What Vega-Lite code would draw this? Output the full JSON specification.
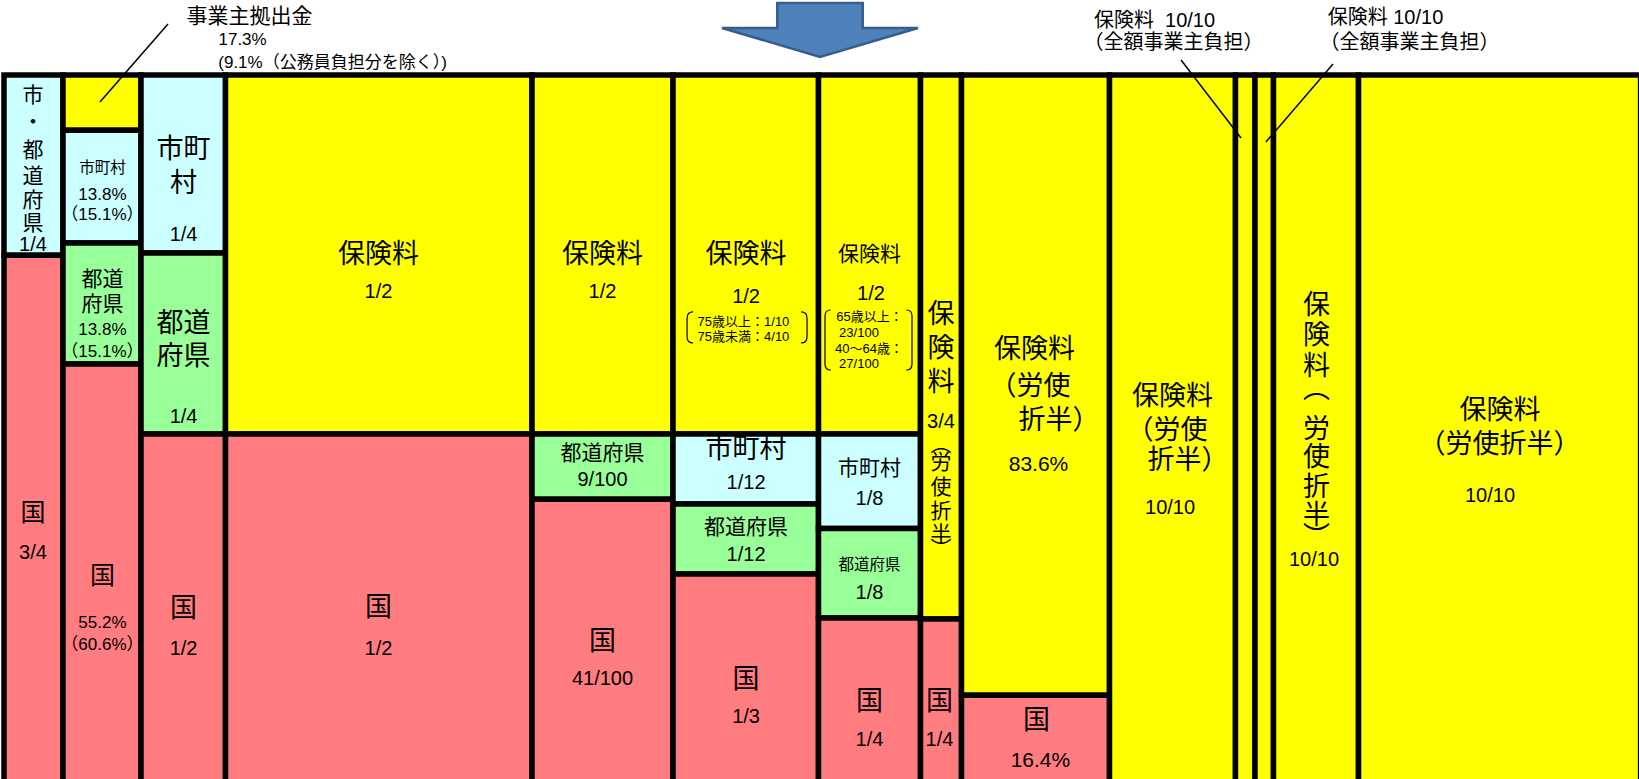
{
  "$schema": "https://vega.github.io/schema/vega-lite/v6.json",
  "width": 1639,
  "height": 704,
  "autosize": {"type": "none"},
  "padding": {"left": 0, "top": 75, "right": 0, "bottom": 0},
  "background": "white",
  "config": {"view": {"stroke": null}},
  "datasets": {
    "cells": [
      {"col": 1, "x0": 0.244, "x1": 3.844, "y0": 0, "y1": 0.251, "payer": "市・都道府県"},
      {"col": 1, "x0": 0.244, "x1": 3.844, "y0": 0.251, "y1": 1, "payer": "国"},
      {"col": 2, "x0": 3.844, "x1": 8.603, "y0": 0, "y1": 0.077, "payer": "事業主拠出金"},
      {"col": 2, "x0": 3.844, "x1": 8.603, "y0": 0.077, "y1": 0.234, "payer": "市町村"},
      {"col": 2, "x0": 3.844, "x1": 8.603, "y0": 0.234, "y1": 0.4025, "payer": "都道府県"},
      {"col": 2, "x0": 3.844, "x1": 8.603, "y0": 0.4025, "y1": 1, "payer": "国"},
      {"col": 3, "x0": 8.603, "x1": 13.758, "y0": 0, "y1": 0.248, "payer": "市町村"},
      {"col": 3, "x0": 8.603, "x1": 13.758, "y0": 0.248, "y1": 0.5, "payer": "都道府県"},
      {"col": 3, "x0": 8.603, "x1": 13.758, "y0": 0.5, "y1": 1, "payer": "国"},
      {"col": 4, "x0": 13.758, "x1": 32.459, "y0": 0, "y1": 0.5, "payer": "保険料"},
      {"col": 4, "x0": 13.758, "x1": 32.459, "y0": 0.5, "y1": 1, "payer": "国"},
      {"col": 5, "x0": 32.459, "x1": 41.062, "y0": 0, "y1": 0.5, "payer": "保険料"},
      {"col": 5, "x0": 32.459, "x1": 41.062, "y0": 0.5, "y1": 0.591, "payer": "都道府県"},
      {"col": 5, "x0": 32.459, "x1": 41.062, "y0": 0.591, "y1": 1, "payer": "国"},
      {"col": 6, "x0": 41.062, "x1": 49.939, "y0": 0, "y1": 0.5, "payer": "保険料"},
      {"col": 6, "x0": 41.062, "x1": 49.939, "y0": 0.5, "y1": 0.5975, "payer": "市町村"},
      {"col": 6, "x0": 41.062, "x1": 49.939, "y0": 0.5975, "y1": 0.695, "payer": "都道府県"},
      {"col": 6, "x0": 41.062, "x1": 49.939, "y0": 0.695, "y1": 1, "payer": "国"},
      {"col": 7, "x0": 49.939, "x1": 56.162, "y0": 0, "y1": 0.5, "payer": "保険料"},
      {"col": 7, "x0": 49.939, "x1": 56.162, "y0": 0.5, "y1": 0.6316, "payer": "市町村"},
      {"col": 7, "x0": 49.939, "x1": 56.162, "y0": 0.6316, "y1": 0.7563, "payer": "都道府県"},
      {"col": 7, "x0": 49.939, "x1": 56.162, "y0": 0.7563, "y1": 1, "payer": "国"},
      {"col": 8, "x0": 56.162, "x1": 58.664, "y0": 0, "y1": 0.7577, "payer": "保険料"},
      {"col": 8, "x0": 56.162, "x1": 58.664, "y0": 0.7577, "y1": 1, "payer": "国"},
      {"col": 9, "x0": 58.664, "x1": 67.694, "y0": 0, "y1": 0.864, "payer": "保険料"},
      {"col": 9, "x0": 58.664, "x1": 67.694, "y0": 0.864, "y1": 1, "payer": "国"},
      {"col": 10, "x0": 67.694, "x1": 75.381, "y0": 0, "y1": 1, "payer": "保険料"},
      {"col": 11, "x0": 75.381, "x1": 76.571, "y0": 0, "y1": 1, "payer": "保険料"},
      {"col": 12, "x0": 76.571, "x1": 77.7, "y0": 0, "y1": 1, "payer": "保険料"},
      {"col": 13, "x0": 77.7, "x1": 82.886, "y0": 0, "y1": 1, "payer": "保険料"},
      {"col": 14, "x0": 82.886, "x1": 100.1, "y0": 0, "y1": 1, "payer": "保険料"}
    ],
    "leaders": [
      {"xa": 10.25, "ya": -0.071, "xb": 6.1, "yb": 0.0376},
      {"xa": 72.06, "ya": -0.0209, "xb": 75.72, "yb": 0.0877},
      {"xa": 81.33, "ya": -0.0153, "xb": 77.24, "yb": 0.0933}
    ],
    "arrow": [{"x": 50.03, "y": -0.0627}],
    "brackets": [
      {"col": 6, "x": 45.58, "y": 0.3516},
      {"col": 7, "x": 52.99, "y": 0.3691}
    ],
    "labels": [
      {"x": 15.22, "y": -0.0808, "t": "事業主拠出金", "k": "M"},
      {"x": 14.8, "y": -0.0487, "t": "17.3%", "k": "P"},
      {"x": 20.29, "y": -0.0167, "t": "(9.1%（公務員負担分を除く）)", "k": "P"},
      {"x": 70.44, "y": -0.0759, "t": "保険料\u00a0\u00a010/10", "k": "F"},
      {"x": 71.6, "y": -0.0446, "t": "（全額事業主負担）", "k": "F"},
      {"x": 84.53, "y": -0.0787, "t": "保険料 10/10", "k": "F"},
      {"x": 86.0, "y": -0.0446, "t": "（全額事業主負担）", "k": "F"},

      {"x": 2.01, "y": 0.0299, "t": "市", "k": "M"},
      {"x": 2.01, "y": 0.0669, "t": "・", "k": "M"},
      {"x": 2.01, "y": 0.1065, "t": "都", "k": "M"},
      {"x": 2.01, "y": 0.1414, "t": "道", "k": "M"},
      {"x": 2.01, "y": 0.1755, "t": "府", "k": "M"},
      {"x": 2.01, "y": 0.2075, "t": "県", "k": "M"},
      {"x": 2.01, "y": 0.2361, "t": "1/4", "k": "F"},
      {"x": 2.01, "y": 0.6096, "t": "国", "k": "K"},
      {"x": 2.01, "y": 0.6657, "t": "3/4", "k": "F"},

      {"x": 6.25, "y": 0.1302, "t": "市町村", "k": "S"},
      {"x": 6.25, "y": 0.1671, "t": "13.8%", "k": "P"},
      {"x": 6.25, "y": 0.195, "t": "（15.1%）", "k": "P"},
      {"x": 6.25, "y": 0.2862, "t": "都道", "k": "M"},
      {"x": 6.25, "y": 0.321, "t": "府県", "k": "M"},
      {"x": 6.25, "y": 0.3545, "t": "13.8%", "k": "P"},
      {"x": 6.25, "y": 0.3851, "t": "（15.1%）", "k": "P"},
      {"x": 6.25, "y": 0.6978, "t": "国", "k": "K"},
      {"x": 6.25, "y": 0.7639, "t": "55.2%", "k": "P"},
      {"x": 6.25, "y": 0.7939, "t": "（60.6%）", "k": "P"},

      {"x": 11.2, "y": 0.1045, "t": "市町", "k": "L"},
      {"x": 11.2, "y": 0.1518, "t": "村", "k": "L"},
      {"x": 11.2, "y": 0.2228, "t": "1/4", "k": "F"},
      {"x": 11.2, "y": 0.3461, "t": "都道", "k": "L"},
      {"x": 11.2, "y": 0.3921, "t": "府県", "k": "L"},
      {"x": 11.2, "y": 0.477, "t": "1/4", "k": "F"},
      {"x": 11.2, "y": 0.7437, "t": "国", "k": "L"},
      {"x": 11.2, "y": 0.8001, "t": "1/2", "k": "F"},

      {"x": 23.09, "y": 0.25, "t": "保険料", "k": "L"},
      {"x": 23.09, "y": 0.3029, "t": "1/2", "k": "F"},
      {"x": 23.09, "y": 0.743, "t": "国", "k": "L"},
      {"x": 23.09, "y": 0.8001, "t": "1/2", "k": "F"},

      {"x": 36.76, "y": 0.2507, "t": "保険料", "k": "L"},
      {"x": 36.76, "y": 0.3029, "t": "1/2", "k": "F"},
      {"x": 36.76, "y": 0.5272, "t": "都道府県", "k": "M"},
      {"x": 36.76, "y": 0.5634, "t": "9/100", "k": "F"},
      {"x": 36.76, "y": 0.789, "t": "国", "k": "L"},
      {"x": 36.76, "y": 0.8419, "t": "41/100", "k": "F"},

      {"x": 45.52, "y": 0.2507, "t": "保険料", "k": "L"},
      {"x": 45.52, "y": 0.3085, "t": "1/2", "k": "F"},
      {"x": 45.36, "y": 0.344, "t": "75歳以上：1/10", "k": "T"},
      {"x": 45.36, "y": 0.3649, "t": "75歳未満：4/10", "k": "T"},
      {"x": 45.52, "y": 0.5223, "t": "市町村", "k": "L"},
      {"x": 45.52, "y": 0.5689, "t": "1/12", "k": "F"},
      {"x": 45.52, "y": 0.6316, "t": "都道府県", "k": "M"},
      {"x": 45.52, "y": 0.6685, "t": "1/12", "k": "F"},
      {"x": 45.52, "y": 0.8426, "t": "国", "k": "L"},
      {"x": 45.52, "y": 0.8948, "t": "1/3", "k": "F"},

      {"x": 53.05, "y": 0.2507, "t": "保険料", "k": "M"},
      {"x": 53.14, "y": 0.3057, "t": "1/2", "k": "F"},
      {"x": 53.05, "y": 0.337, "t": "65歳以上：", "k": "T"},
      {"x": 52.41, "y": 0.3593, "t": "23/100", "k": "T"},
      {"x": 53.02, "y": 0.3816, "t": "40～64歳：", "k": "T"},
      {"x": 52.41, "y": 0.4025, "t": "27/100", "k": "T"},
      {"x": 53.05, "y": 0.5487, "t": "市町村", "k": "M"},
      {"x": 53.05, "y": 0.5912, "t": "1/8", "k": "F"},
      {"x": 53.05, "y": 0.6825, "t": "都道府県", "k": "S"},
      {"x": 53.05, "y": 0.7208, "t": "1/8", "k": "F"},
      {"x": 53.05, "y": 0.8726, "t": "国", "k": "L"},
      {"x": 53.05, "y": 0.9255, "t": "1/4", "k": "F"},

      {"x": 57.41, "y": 0.3336, "t": "保", "k": "L"},
      {"x": 57.41, "y": 0.3823, "t": "険", "k": "L"},
      {"x": 57.41, "y": 0.4283, "t": "料", "k": "L"},
      {"x": 57.41, "y": 0.4826, "t": "3/4", "k": "F"},
      {"x": 57.41, "y": 0.5153, "t": "︵", "k": "M"},
      {"x": 57.41, "y": 0.5404, "t": "労", "k": "M"},
      {"x": 57.41, "y": 0.5759, "t": "使", "k": "M"},
      {"x": 57.41, "y": 0.6086, "t": "折", "k": "M"},
      {"x": 57.41, "y": 0.6407, "t": "半", "k": "M"},
      {"x": 57.41, "y": 0.6616, "t": "︶", "k": "M"},
      {"x": 57.32, "y": 0.8726, "t": "国", "k": "L"},
      {"x": 57.32, "y": 0.9255, "t": "1/4", "k": "F"},

      {"x": 63.12, "y": 0.3837, "t": "保険料", "k": "L"},
      {"x": 62.84, "y": 0.4339, "t": "（労使", "k": "L"},
      {"x": 64.61, "y": 0.4812, "t": "折半）", "k": "L"},
      {"x": 63.36, "y": 0.5432, "t": "83.6%", "k": "M"},
      {"x": 63.24, "y": 0.9004, "t": "国", "k": "L"},
      {"x": 63.48, "y": 0.9561, "t": "16.4%", "k": "M"},

      {"x": 71.54, "y": 0.4478, "t": "保険料", "k": "L"},
      {"x": 71.2, "y": 0.4965, "t": "（労使", "k": "L"},
      {"x": 72.48, "y": 0.5383, "t": "折半）", "k": "L"},
      {"x": 71.39, "y": 0.6024, "t": "10/10", "k": "F"},

      {"x": 80.32, "y": 0.3224, "t": "保", "k": "L"},
      {"x": 80.32, "y": 0.3642, "t": "険", "k": "L"},
      {"x": 80.32, "y": 0.406, "t": "料", "k": "L"},
      {"x": 80.32, "y": 0.4387, "t": "︵", "k": "L"},
      {"x": 80.32, "y": 0.4944, "t": "労", "k": "L"},
      {"x": 80.32, "y": 0.5341, "t": "使", "k": "L"},
      {"x": 80.32, "y": 0.5759, "t": "折", "k": "L"},
      {"x": 80.32, "y": 0.6149, "t": "半", "k": "L"},
      {"x": 80.32, "y": 0.6442, "t": "︶", "k": "L"},
      {"x": 80.17, "y": 0.6755, "t": "10/10", "k": "F"},

      {"x": 91.52, "y": 0.4673, "t": "保険料", "k": "L"},
      {"x": 91.49, "y": 0.516, "t": "（労使折半）", "k": "L"},
      {"x": 90.91, "y": 0.587, "t": "10/10", "k": "F"}
    ]
  },
  "layer": [
    {
      "data": {"name": "cells"},
      "mark": {"type": "rect", "stroke": "black", "strokeWidth": 5.5, "opacity": 1},
      "encoding": {
        "x": {"field": "x0", "type": "quantitative", "axis": null,
              "scale": {"domain": [0, 100], "nice": false, "zero": false}},
        "x2": {"field": "x1"},
        "y": {"field": "y0", "type": "quantitative", "axis": null,
              "scale": {"domain": [0, 0.9805], "reverse": true, "nice": false, "zero": false}},
        "y2": {"field": "y1"},
        "color": {"field": "payer", "type": "nominal", "legend": null,
                  "scale": {"domain": ["保険料", "事業主拠出金", "市町村", "市・都道府県", "都道府県", "国"],
                            "range": ["#FFFF00", "#FFFF00", "#CCFFFF", "#CCFFFF", "#99FF99", "#FF7C80"]}}
      }
    },
    {
      "data": {"name": "leaders"},
      "mark": {"type": "rule", "stroke": "black", "strokeWidth": 1.5},
      "encoding": {
        "x": {"field": "xa", "type": "quantitative"},
        "y": {"field": "ya", "type": "quantitative"},
        "x2": {"field": "xb"},
        "y2": {"field": "yb"}
      }
    },
    {
      "data": {"name": "labels"},
      "mark": {"type": "text", "font": "Liberation Sans, Noto Sans CJK JP", "align": "center", "baseline": "middle", "color": "black"},
      "encoding": {
        "x": {"field": "x", "type": "quantitative"},
        "y": {"field": "y", "type": "quantitative"},
        "text": {"field": "t"},
        "size": {
          "condition": [
            {"test": "datum.k === 'L'", "value": 27},
            {"test": "datum.k === 'K'", "value": 25},
            {"test": "datum.k === 'M'", "value": 21},
            {"test": "datum.k === 'P'", "value": 17},
            {"test": "datum.k === 'S'", "value": 15.5},
            {"test": "datum.k === 'T'", "value": 13}
          ],
          "value": 20
        }
      }
    },
    {
      "data": {"name": "arrow"},
      "mark": {"type": "point", "shape": "M-0.436,-0.2755 L0.436,-0.2755 L0.436,-0.0204 L1,-0.0204 L0,0.2755 L-1,-0.0204 L-0.436,-0.0204 Z",
               "size": 38416, "filled": true, "fill": "#4F81BD", "stroke": "#385D8A", "strokeWidth": 2.5, "opacity": 1},
      "encoding": {
        "x": {"field": "x", "type": "quantitative"},
        "y": {"field": "y", "type": "quantitative"}
      }
    },
    {
      "data": {"name": "brackets"},
      "transform": [{"filter": "datum.col === 6"}],
      "mark": {"type": "point", "shape": "M-0.9,-0.258 Q-1,-0.258 -1,-0.15 L-1,0.15 Q-1,0.258 -0.9,0.258 M0.9,-0.258 Q1,-0.258 1,-0.15 L1,0.15 Q1,0.258 0.9,0.258",
               "size": 14400, "filled": false, "stroke": "black", "strokeWidth": 1.2, "opacity": 1},
      "encoding": {
        "x": {"field": "x", "type": "quantitative"},
        "y": {"field": "y", "type": "quantitative"}
      }
    },
    {
      "data": {"name": "brackets"},
      "transform": [{"filter": "datum.col === 7"}],
      "mark": {"type": "point", "shape": "M-0.87,-0.69 Q-1,-0.69 -1,-0.55 L-1,0.55 Q-1,0.69 -0.87,0.69 M0.87,-0.69 Q1,-0.69 1,-0.55 L1,0.55 Q1,0.69 0.87,0.69",
               "size": 7569, "filled": false, "stroke": "black", "strokeWidth": 1.2, "opacity": 1},
      "encoding": {
        "x": {"field": "x", "type": "quantitative"},
        "y": {"field": "y", "type": "quantitative"}
      }
    }
  ]
}
